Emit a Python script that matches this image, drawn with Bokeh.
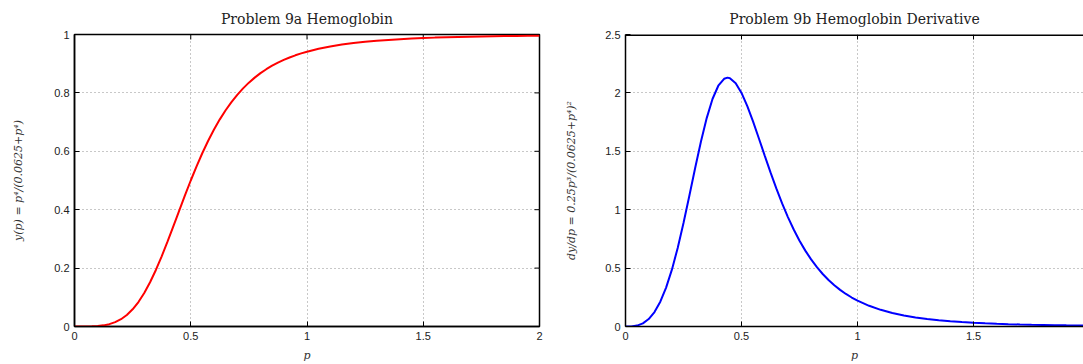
import math
from bokeh.plotting import figure
from bokeh.models import Range1d, FixedTicker, Span
from bokeh.layouts import row
from bokeh.embed import file_html
from bokeh.resources import INLINE

# ---- data ----
p_vals = [0.0, 0.025, 0.05, 0.075, 0.1, 0.125, 0.15, 0.175, 0.2, 0.225,
          0.25, 0.275, 0.3, 0.325, 0.35, 0.375, 0.4, 0.425, 0.44, 0.45, 0.475,
          0.5, 0.525, 0.55, 0.575, 0.6, 0.625, 0.65, 0.675, 0.7, 0.725,
          0.75, 0.775, 0.8, 0.825, 0.85, 0.875, 0.9, 0.925, 0.95, 0.975, 1.0,
          1.05, 1.1, 1.15, 1.2, 1.25, 1.3, 1.35, 1.4, 1.45, 1.5,
          1.55, 1.6, 1.65, 1.7, 1.75, 1.8, 1.85, 1.9, 1.95, 2.0]

y_vals = [0.0, 0.0000, 0.0001, 0.0005, 0.0016, 0.0039, 0.0080, 0.0148, 0.0250, 0.0394,
          0.0588, 0.0838, 0.1147, 0.1515, 0.1936, 0.2404, 0.2906, 0.3430, 0.3749, 0.3962, 0.4489,
          0.5000, 0.5486, 0.5942, 0.6362, 0.6747, 0.7094, 0.7407, 0.7686, 0.7935, 0.8155,
          0.8351, 0.8523, 0.8676, 0.8811, 0.8931, 0.9037, 0.9130, 0.9213, 0.9287, 0.9353, 0.9412,
          0.9511, 0.9591, 0.9655, 0.9707, 0.9750, 0.9786, 0.9815, 0.9840, 0.9861, 0.9878,
          0.9893, 0.9906, 0.9916, 0.9926, 0.9934, 0.9941, 0.9947, 0.9952, 0.9957, 0.9961]

dy_vals = [0.0, 0.001, 0.008, 0.027, 0.0638, 0.1240, 0.2125, 0.3329, 0.4868, 0.6727,
           0.8858, 1.1172, 1.3542, 1.5818, 1.7843, 1.9476, 2.0614, 2.1209, 2.1304, 2.1264, 2.0833,
           2.0000, 1.8867, 1.7537, 1.6100, 1.4633, 1.3193, 1.1820, 1.0540, 0.9365, 0.8301,
           0.7346, 0.6496, 0.5743, 0.5079, 0.4494, 0.3980, 0.3529, 0.3134, 0.2787, 0.2482, 0.2215,
           0.1772, 0.1428, 0.1159, 0.0947, 0.0779, 0.0645, 0.0537, 0.0450, 0.0379, 0.0321,
           0.0273, 0.0234, 0.0201, 0.0173, 0.0150, 0.0131, 0.0114, 0.0100, 0.0088, 0.0078]

left_xticks = [0, 0.5, 1, 1.5, 2]
left_xlabels = ["0", "0.5", "1", "1.5", "2"]
left_yticks = [0, 0.2, 0.4, 0.6, 0.8, 1]
left_ylabels = ["0", "0.2", "0.4", "0.6", "0.8", "1"]
right_xticks = [0, 0.5, 1, 1.5]
right_xlabels = ["0", "0.5", "1", "1.5"]
right_yticks = [0, 0.5, 1, 1.5, 2, 2.5]
right_ylabels = ["0", "0.5", "1", "1.5", "2", "2.5"]

TICK_FONT = "Liberation Sans"
SERIF = "DejaVu Serif"


def style_axis(ax, ticks, labels):
    ax.ticker = FixedTicker(ticks=ticks)
    ax.major_label_overrides = {t: l for t, l in zip(ticks, labels)}
    ax.axis_line_color = "black"
    ax.axis_line_width = 1.5
    ax.major_tick_in = 5
    ax.major_tick_out = 0
    ax.major_tick_line_color = "black"
    ax.major_tick_line_width = 1
    ax.minor_tick_line_color = None
    ax.major_label_text_font = TICK_FONT
    ax.major_label_text_color = "#222222"
    ax.major_label_text_font_size = "11px"
    ax.major_label_standoff = 5
    ax.axis_label_text_font = SERIF
    ax.axis_label_text_font_style = "italic"
    ax.axis_label_text_font_size = "11px"
    ax.axis_label_text_color = "#333333"


def make_fig(width, bl, br, title, xr, yr, xt, xl, yt, yl, xlabel, ylabel, ystand, full_box):
    p = figure(width=width, height=364, x_range=Range1d(*xr), y_range=Range1d(*yr),
               output_backend="svg", toolbar_location=None, title=title,
               min_border_left=bl, min_border_right=br, min_border_top=34,
               min_border_bottom=36)
    if full_box:
        p.outline_line_color = "black"
        p.outline_line_width = 1.5
        p.outline_line_alpha = 1.0
    else:
        # box continues past the window edge: only the top edge is drawn
        p.outline_line_color = None
        p.add_layout(Span(location=yr[1], dimension="width", line_color="black",
                          line_width=3))
    p.title.align = "center"
    p.title.vertical_align = "middle"
    p.title.text_font = SERIF
    p.title.text_font_style = "normal"
    p.title.text_font_size = "14px"
    p.title.text_color = "#222222"
    p.title.standoff = 14

    style_axis(p.xaxis[0], xt, xl)
    style_axis(p.yaxis[0], yt, yl)
    p.xaxis[0].axis_label = xlabel
    p.yaxis[0].axis_label = ylabel
    p.xaxis[0].axis_label_standoff = 6
    p.yaxis[0].axis_label_standoff = ystand

    # inward tick marks on the top (and right) edges of the box
    p.ray(x=xt, y=[yr[1]] * len(xt), length=5, length_units="screen",
          angle=-math.pi / 2, line_color="black", line_width=1)
    if full_box:
        p.ray(x=[xr[1]] * len(yt), y=yt, length=5, length_units="screen",
              angle=math.pi, line_color="black", line_width=1)

    for g in (p.xgrid[0], p.ygrid[0]):
        g.grid_line_color = "#777777"
        g.grid_line_alpha = 0.8
        g.grid_line_dash = "1 3"
        g.grid_line_width = 1
    p.xgrid[0].ticker = FixedTicker(ticks=xt)
    p.ygrid[0].ticker = FixedTicker(ticks=yt)
    return p


p1 = make_fig(560, 74, 21, "Problem 9a Hemoglobin", (0, 2), (0, 1),
              left_xticks, left_xlabels, left_yticks, left_ylabels,
              "p", "y(p) = p⁴/(0.0625+p⁴)", 26, True)
p1.line(p_vals, y_vals, line_color="#ff0000", line_width=2)

p2 = make_fig(523, 65, 0, "Problem 9b Hemoglobin Derivative", (0, 1.974), (0, 2.5),
              right_xticks, right_xlabels, right_yticks, right_ylabels,
              "p", "dy/dp = 0.25p³/(0.0625+p⁴)²", 24, False)
p2.line(p_vals, dy_vals, line_color="#0000ff", line_width=2)

layout = row(p1, p2)
open("out.html", "w").write(file_html(layout, INLINE))
